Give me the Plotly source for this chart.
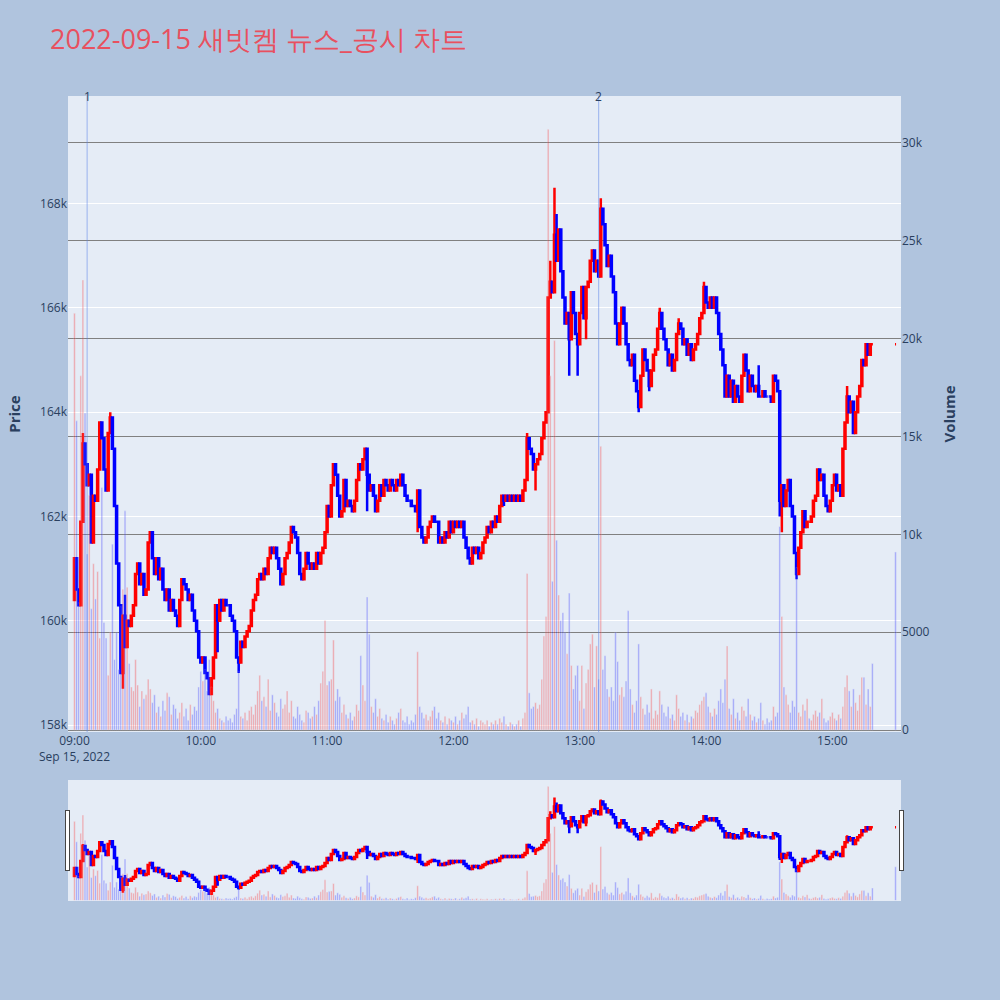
import pandas as pd
import plotly.graph_objects as go

TITLE = "2022-09-15 새빗켐 뉴스_공시 차트"

first_open = 160400
# 1-minute closes 09:00 .. 15:19
closes = [
    161200, 160600, 160300, 161900, 163400, 163000, 162600, 162800, 161500, 162400,
    162300, 162900, 163800, 163500, 162900, 162500, 163600, 163900, 163300, 162200,
    161100, 160300, 159000, 160100, 159500, 160000, 159900, 160100, 160300, 160900,
    161100, 160700, 160900, 160500, 160600, 161500, 161700, 161200, 160900, 161200,
    160800, 161000, 160600, 160400, 160600, 160200, 160400, 160200, 160100, 159900,
    160400, 160800, 160700, 160600, 160400, 160500, 160200, 160000, 159800, 159300,
    159200, 159300, 159000, 158900, 158600, 158900, 159300, 160300, 160000, 160400,
    160200, 160400, 160300, 160300, 160100, 160000, 159800, 159300, 159200, 159600,
    159500, 159700, 159800, 159900, 160200, 160400, 160500, 160800, 160900, 160800,
    161000, 160900, 161200, 161400, 161300, 161400, 161200, 161000, 160700, 160900,
    161200, 161300, 161500, 161800, 161700, 161600, 161300, 160900, 160800, 161000,
    161300, 161100, 161000, 161100, 161000, 161300, 161100, 161300, 161400, 161700,
    162200, 162000, 162600, 163000, 162800, 162400, 162000, 162100, 162700, 162200,
    162300, 162200, 162100, 162300, 162700, 163000, 162900, 163100, 163300, 162800,
    162500, 162600, 162400, 162100, 162300, 162600, 162400, 162700, 162600, 162500,
    162700, 162600, 162500, 162700, 162600, 162800, 162600, 162400, 162300, 162300,
    162200, 162200, 162100, 162500, 161800, 161600, 161500, 161600, 161800, 161900,
    162000, 161900, 161900, 161500, 161600, 161500, 161700, 161600, 161900, 161700,
    161900, 161800, 161900, 161800, 161900, 161600, 161400, 161200, 161100, 161400,
    161300, 161400, 161200, 161300, 161500, 161600, 161800, 161700, 161900, 161800,
    162000, 161900, 162200, 162400, 162300, 162400, 162300, 162400, 162300, 162400,
    162300, 162400, 162300, 162500, 162700, 163500, 163300, 163200, 162900, 163000,
    163100, 163200, 163500, 163800, 164000, 166200, 166500, 166300, 167400, 166900,
    167500, 166700, 166200, 165700, 165900, 165400, 166300, 165900, 165500, 165300,
    165900, 166400, 165800, 166400, 166500, 166900, 167100, 166700, 166900, 166600,
    167900, 167600, 167200, 166800, 167000, 166600, 166300, 165700, 165300, 165700,
    166000, 165700, 165300, 165000, 164900, 165100, 164600, 164400, 164100, 164700,
    165200, 165000, 164800, 164500, 164800, 165100, 165200, 165600, 165900, 165600,
    165400, 165200, 164900, 165100, 164800, 165000, 165500, 165700, 165600, 165300,
    165400, 165100, 165300, 165000, 165200, 165300, 165500, 165800, 165900, 166400,
    166100, 166000, 166200, 166000, 166200, 165900, 165500, 165200, 164900, 164300,
    164700, 164300, 164600, 164200, 164500, 164300, 164200, 164700, 165100, 164800,
    164400, 164700, 164500, 164400, 164500, 164300, 164300, 164400, 164300, 164300,
    164300, 164200, 164700, 164600, 164400, 162300, 162600, 162200, 162500, 162700,
    162200, 162000, 161300, 160900, 161400, 161700, 162100, 161800, 161900, 161900,
    162000, 162300, 162400, 162900, 162700, 162800, 162400, 162200, 162100, 162300,
    162600, 162800, 162500, 162600, 162400, 163300, 163800, 164300, 164000, 164200,
    163600, 164000, 164300, 164500, 165000, 164900, 165300, 165100, 165300, 165300,
]
close_1530 = 165300

volumes = [
    21300, 15800, 6500, 18100, 23000, 16200, 9000, 12000, 6200, 8500,
    6700, 8100, 4700, 12400, 5500, 4700, 2800, 5000, 9500, 3600,
    5000, 3100, 6300, 7200, 11200, 7300, 3400, 2200, 2000, 3600,
    2300, 1200, 2000, 1600, 1800, 2600, 2100, 1400, 1800, 900,
    1200, 700, 1500, 1000, 1900, 1700, 800, 1300, 1100, 600,
    900, 1400, 700, 1100, 500, 1300, 800, 1200, 1000, 2200,
    3000, 2500, 3100, 2000, 3600, 2200, 1500, 900, 1100, 600,
    500, 400, 700, 500, 600, 400, 800, 1100, 3000, 700,
    600, 900, 500, 1000, 1200, 800, 1300, 2000, 2800, 1500,
    1700, 1200, 2600, 1000, 1800, 1400, 900, 700, 1600, 1100,
    1300, 2000, 900, 1500, 700, 600, 1200, 800, 500, 400,
    1000, 900, 600, 700, 1200, 800, 1500, 2400, 3000, 5600,
    2300, 2500, 2600, 4600, 1500, 2100, 1700, 900, 1300, 800,
    600, 900, 500, 700, 1300, 1000, 3800, 2300, 1500, 6800,
    4900, 1200, 900, 1600, 700, 1100, 600, 500, 800, 400,
    700, 500, 300, 600, 900, 1100, 500, 400, 700, 300,
    500, 400, 800, 4000, 1200, 900, 600, 800, 500, 700,
    1000, 1200, 600, 900, 500, 400, 700, 300, 600, 500,
    400, 700, 300, 500, 900, 600, 800, 1200, 400, 500,
    300, 600, 200, 500, 400, 300, 500, 200, 400, 300,
    500, 300, 600, 400, 700, 300, 200, 400, 300, 200,
    300, 500, 200, 600, 900, 8000, 1900, 1100, 1200, 1400,
    1100, 1300, 2600, 4800, 5800, 30700, 18100, 7600, 19900, 9700,
    6900, 5600, 6000, 5000, 3900, 7000, 3300, 2100, 2800, 3300,
    1500, 3300, 1100, 2400, 3100, 4400, 4900, 2200, 4300, 2600,
    14500, 3100, 3800, 2100, 1700, 2200, 1500, 5000, 3500, 1800,
    2200, 1700, 2500, 6100, 2100, 1300, 900, 1500, 4400, 1700,
    1100, 800, 1300, 900, 2100, 600, 1000, 800, 2000, 1300,
    900, 700, 1200, 600, 800, 500, 1800, 1100, 700, 900,
    500, 800, 400, 700, 600, 1000, 900, 1300, 1500, 1700,
    1900, 1200, 900, 700, 1100, 800, 1500, 2100, 1400, 2600,
    4300, 1100, 800, 1600, 600, 900, 500, 1200, 1000, 700,
    1600, 800, 500, 700, 400, 600, 1400, 500, 300, 600,
    400, 500, 1200, 700, 900, 10400, 5800, 2200, 1800, 1300,
    900, 1500, 1200, 8300, 900, 700, 1300, 1000, 1600, 600,
    500, 800, 1000, 700, 900, 1600, 600, 400, 500, 700,
    900, 600, 500, 800, 600, 1200, 2200, 2800, 2000, 1200,
    2100, 1400, 1000, 1800, 2700, 2700, 1300, 2100, 1200, 3400,
]
volume_1530 = 9100

# wick extremes (minute index, high, low)
wick_idx = [4, 17, 23, 24, 68, 78, 139, 163, 204, 215, 219, 226, 228, 229, 235, 239,
            243, 250, 268, 273, 278, 287, 299, 325, 335, 336, 343, 367]
wick_high = [163600, 164000, None, 160500, None, None, None, None, None, 163600, None, 166900,
             168300, 167800, None, None, None, 168100, None, None, 166000, 165800, 166500,
             164900, None, None, None, 164500]
wick_low = [None, None, 158700, None, 159400, 159000, 162100, 161700, 162200, None, 162500,
            None, None, None, 164700, 164700, 165400, None, 164000, 164400, None, None, None,
            None, 162000, 161700, 160800, None]

news_times = ["2022-09-15 09:06", "2022-09-15 13:09"]
news_labels = ["1", "2"]

price_ticks = [158000, 160000, 162000, 164000, 166000, 168000]
volume_ticks = [0, 5000, 10000, 15000, 20000, 25000, 30000]

x_range = ["2022-09-15 08:56:55", "2022-09-15 15:32:36"]
price_range = [157870, 170060]
volume_range = [-100, 32400]

# ---- build series ----
times = list(pd.date_range("2022-09-15 09:00", periods=len(closes), freq="min")) + [
    pd.Timestamp("2022-09-15 15:30")]
c = closes + [close_1530]
o = [first_open] + c[:-1]
h = [max(a, b) for a, b in zip(o, c)]
l = [min(a, b) for a, b in zip(o, c)]
for k, hi, lo in zip(wick_idx, wick_high, wick_low):
    if hi is not None:
        h[k] = max(h[k], hi)
    if lo is not None:
        l[k] = min(l[k], lo)
vol = volumes + [volume_1530]
vcol = ["red" if cc > oo else "blue" for oo, cc in zip(o, c)]

fig = go.Figure()
fig.add_trace(go.Candlestick(
    x=times, open=o, high=h, low=l, close=c, name="Price",
    increasing=dict(line=dict(color="red", width=2.5), fillcolor="red"),
    decreasing=dict(line=dict(color="blue", width=2.5), fillcolor="blue"),
    yaxis="y"))
fig.add_trace(go.Bar(
    x=times, y=vol, name="Volume", marker=dict(color=vcol),
    opacity=0.3, yaxis="y2"))

for t, lab in zip(news_times, news_labels):
    fig.add_shape(type="line", xref="x", yref="paper", x0=t, x1=t, y0=0, y1=1,
                  line=dict(color="rgba(90,130,230,0.55)", width=1))
    fig.add_annotation(x=t, y=1, xref="x", yref="paper", text=lab, showarrow=False,
                       yanchor="middle", font=dict(size=12, color="#2a3f5f"))

fig.update_layout(
    width=1000, height=1000,
    template="plotly",
    paper_bgcolor="#B0C4DE",
    plot_bgcolor="#E5ECF6",
    showlegend=False,
    title=dict(text=TITLE, x=0.05, xanchor="left", y=0.96, yanchor="middle",
               yref="container", font=dict(size=27, color="#E8505F")),
    margin=dict(l=68, r=99, t=96, b=100),
    xaxis=dict(type="date", range=x_range, showgrid=False,
               rangeslider=dict(visible=True, thickness=0.15, bgcolor="#E5ECF6",
                                range=x_range)),
    yaxis=dict(title=dict(text="<b>Price</b>", font=dict(size=15)), range=price_range,
               tickvals=price_ticks, gridcolor="white"),
    yaxis2=dict(title=dict(text="<b>Volume</b>", font=dict(size=15)), overlaying="y",
                side="right", range=volume_range, tickvals=volume_ticks,
                gridcolor="gray", zeroline=False),
)

fig.write_html("out.html", config={"displayModeBar": False},
               post_script="document.body.style.margin='0';")
